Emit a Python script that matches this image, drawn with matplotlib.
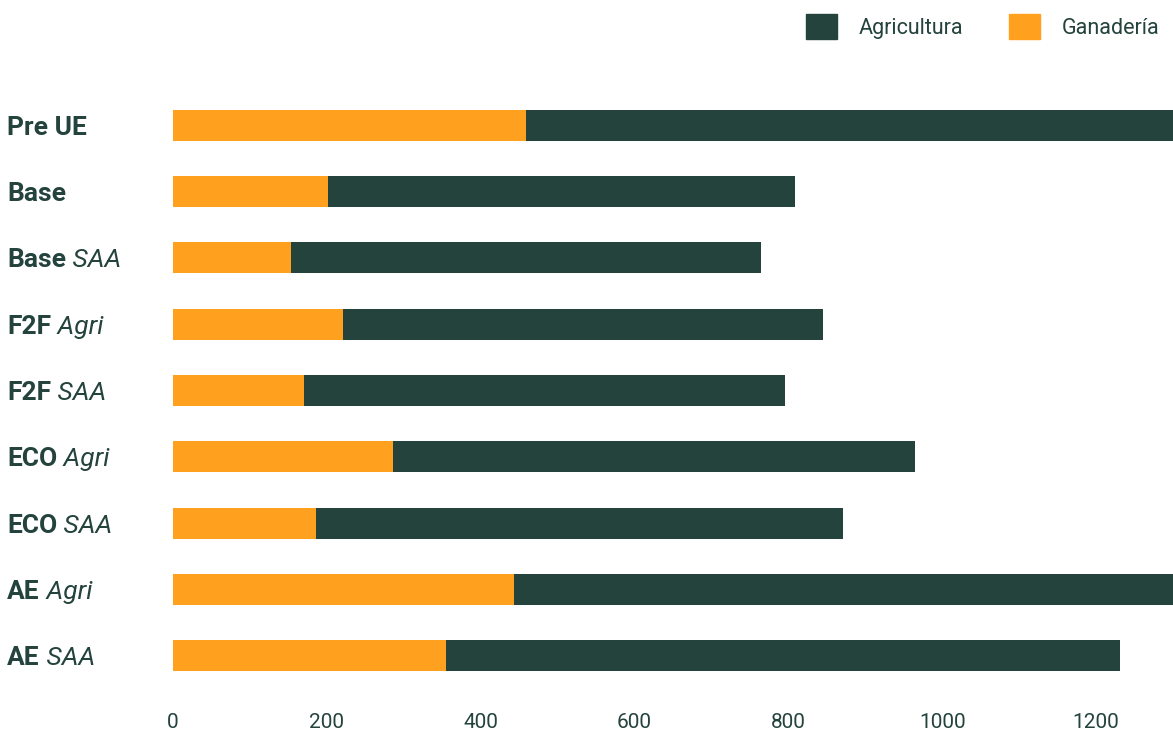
import matplotlib.pyplot as plt
from matplotlib.patches import Patch
from matplotlib.transforms import blended_transform_factory

# data
bold_labels = ["Pre UE", "Base", "Base", "F2F", "F2F", "ECO", "ECO", "AE", "AE"]
italic_labels = ["", "", "SAA", "Agri", "SAA", "Agri", "SAA", "Agri", "SAA"]
ganaderia = [459, 202, 153, 221, 170, 286, 186, 443, 355]
agricultura = [860, 606, 612, 624, 625, 678, 685, 870, 876]

DARK = "#24433d"
ORANGE = "#ffa01f"

plt.rcParams['font.family'] = ['Roboto', 'DejaVu Sans']

fig = plt.figure(figsize=(11.73, 7.36), dpi=100)
ax = fig.add_axes([173 / 1173, 1 - 689 / 736, 1 - 173 / 1173, 597 / 736])

ypos = list(range(len(bold_labels)))
ax.barh(ypos, ganaderia, height=0.47, color=ORANGE, label="Ganadería")
ax.barh(ypos, agricultura, left=ganaderia, height=0.47, color=DARK,
        label="Agricultura")

ax.set_xlim(0, 1300)
ax.set_ylim(len(bold_labels) - 0.5, -0.5)
ax.set_xticks(range(0, 1201, 200))
ax.tick_params(axis='x', length=0, pad=17, labelsize=15, labelcolor=DARK)
ax.set_yticks([])
for s in ax.spines.values():
    s.set_visible(False)

# category labels: bold part plus italic part
tr = blended_transform_factory(fig.transFigure, ax.transData)
for y, b, it in zip(ypos, bold_labels, italic_labels):
    t = fig.text(7 / 1173, y + 0.04, b, transform=tr, fontsize=19,
                 fontweight='bold', color=DARK, va='center', ha='left')
    if it:
        ax.annotate(" " + it, xy=(1, 0), xycoords=t, fontsize=19,
                    fontstyle='italic', color=DARK, va='bottom', ha='left',
                    annotation_clip=False)

handles = [Patch(color=DARK, label="Agricultura"),
           Patch(color=ORANGE, label="Ganadería")]
leg = fig.legend(handles=handles, loc='upper right', ncol=2,
                 bbox_to_anchor=(1.0, 1.0), frameon=False, fontsize=15.5,
                 handlelength=1.44, handleheight=1.44, handletextpad=1.0,
                 columnspacing=2.1, borderaxespad=0.25)
for txt in leg.get_texts():
    txt.set_color(DARK)

fig.savefig("out.png", dpi=100)
